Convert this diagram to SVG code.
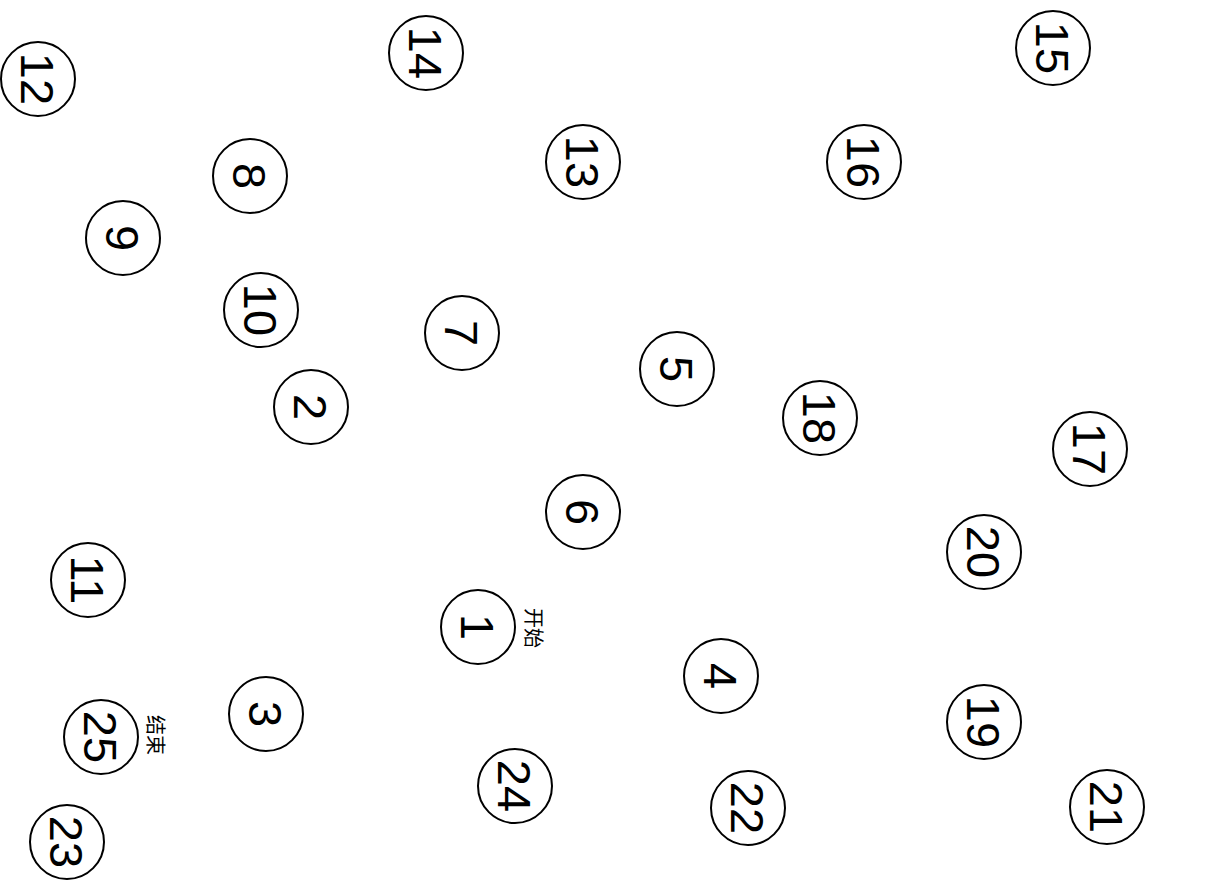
<svg xmlns="http://www.w3.org/2000/svg" width="1219" height="889" viewBox="0 0 1219 889">
<style>
.n circle{fill:#fff;stroke:#000;stroke-width:2}
.n text{font-family:"Liberation Sans",Arial,sans-serif;font-size:47px;fill:#000;text-anchor:middle}
.lbl{font-family:"Liberation Sans","Noto Sans CJK SC",sans-serif;font-size:20px;fill:#000;text-anchor:middle;dominant-baseline:central}
</style>
<rect width="1219" height="889" fill="#fff"/>
<g id="connectors"></g>
<g id="n1" class="n" transform="translate(478,627)"><circle r="37"/><text transform="rotate(90)" dy="17">1</text></g>
<g id="n2" class="n" transform="translate(311,407)"><circle r="37"/><text transform="rotate(90)" dy="17">2</text></g>
<g id="n3" class="n" transform="translate(266,714)"><circle r="37"/><text transform="rotate(90)" dy="17">3</text></g>
<g id="n4" class="n" transform="translate(721,676)"><circle r="37"/><text transform="rotate(90)" dy="17">4</text></g>
<g id="n5" class="n" transform="translate(677,369)"><circle r="37"/><text transform="rotate(90)" dy="17">5</text></g>
<g id="n6" class="n" transform="translate(583,512)"><circle r="37"/><text transform="rotate(90)" dy="17">6</text></g>
<g id="n7" class="n" transform="translate(462,333)"><circle r="37"/><text transform="rotate(90)" dy="17">7</text></g>
<g id="n8" class="n" transform="translate(250,176)"><circle r="37"/><text transform="rotate(90)" dy="17">8</text></g>
<g id="n9" class="n" transform="translate(123,238)"><circle r="37"/><text transform="rotate(90)" dy="17">9</text></g>
<g id="n10" class="n" transform="translate(261,310)"><circle r="37"/><text transform="rotate(90)" dy="17">10</text></g>
<g id="n11" class="n" transform="translate(88,580)"><circle r="37"/><text transform="rotate(90)" dy="17">11</text></g>
<g id="n12" class="n" transform="translate(38,79)"><circle r="37"/><text transform="rotate(90)" dy="17">12</text></g>
<g id="n13" class="n" transform="translate(583,162)"><circle r="37"/><text transform="rotate(90)" dy="17">13</text></g>
<g id="n14" class="n" transform="translate(426,53)"><circle r="37"/><text transform="rotate(90)" dy="17">14</text></g>
<g id="n15" class="n" transform="translate(1053,48)"><circle r="37"/><text transform="rotate(90)" dy="17">15</text></g>
<g id="n16" class="n" transform="translate(864,162)"><circle r="37"/><text transform="rotate(90)" dy="17">16</text></g>
<g id="n17" class="n" transform="translate(1090,449)"><circle r="37"/><text transform="rotate(90)" dy="17">17</text></g>
<g id="n18" class="n" transform="translate(820,418)"><circle r="37"/><text transform="rotate(90)" dy="17">18</text></g>
<g id="n19" class="n" transform="translate(984,722)"><circle r="37"/><text transform="rotate(90)" dy="17">19</text></g>
<g id="n20" class="n" transform="translate(984,552)"><circle r="37"/><text transform="rotate(90)" dy="17">20</text></g>
<g id="n21" class="n" transform="translate(1107,807)"><circle r="37"/><text transform="rotate(90)" dy="17">21</text></g>
<g id="n22" class="n" transform="translate(748,808)"><circle r="37"/><text transform="rotate(90)" dy="17">22</text></g>
<g id="n23" class="n" transform="translate(67,842)"><circle r="37"/><text transform="rotate(90)" dy="17">23</text></g>
<g id="n24" class="n" transform="translate(515,786)"><circle r="37"/><text transform="rotate(90)" dy="17">24</text></g>
<g id="n25" class="n" transform="translate(101,737)"><circle r="37"/><text transform="rotate(90)" dy="17">25</text></g>
<g id="labels">
<text class="lbl" transform="translate(533,628) rotate(90)">开始</text>
<text class="lbl" transform="translate(155,735) rotate(90)">结束</text>
</g>
</svg>
